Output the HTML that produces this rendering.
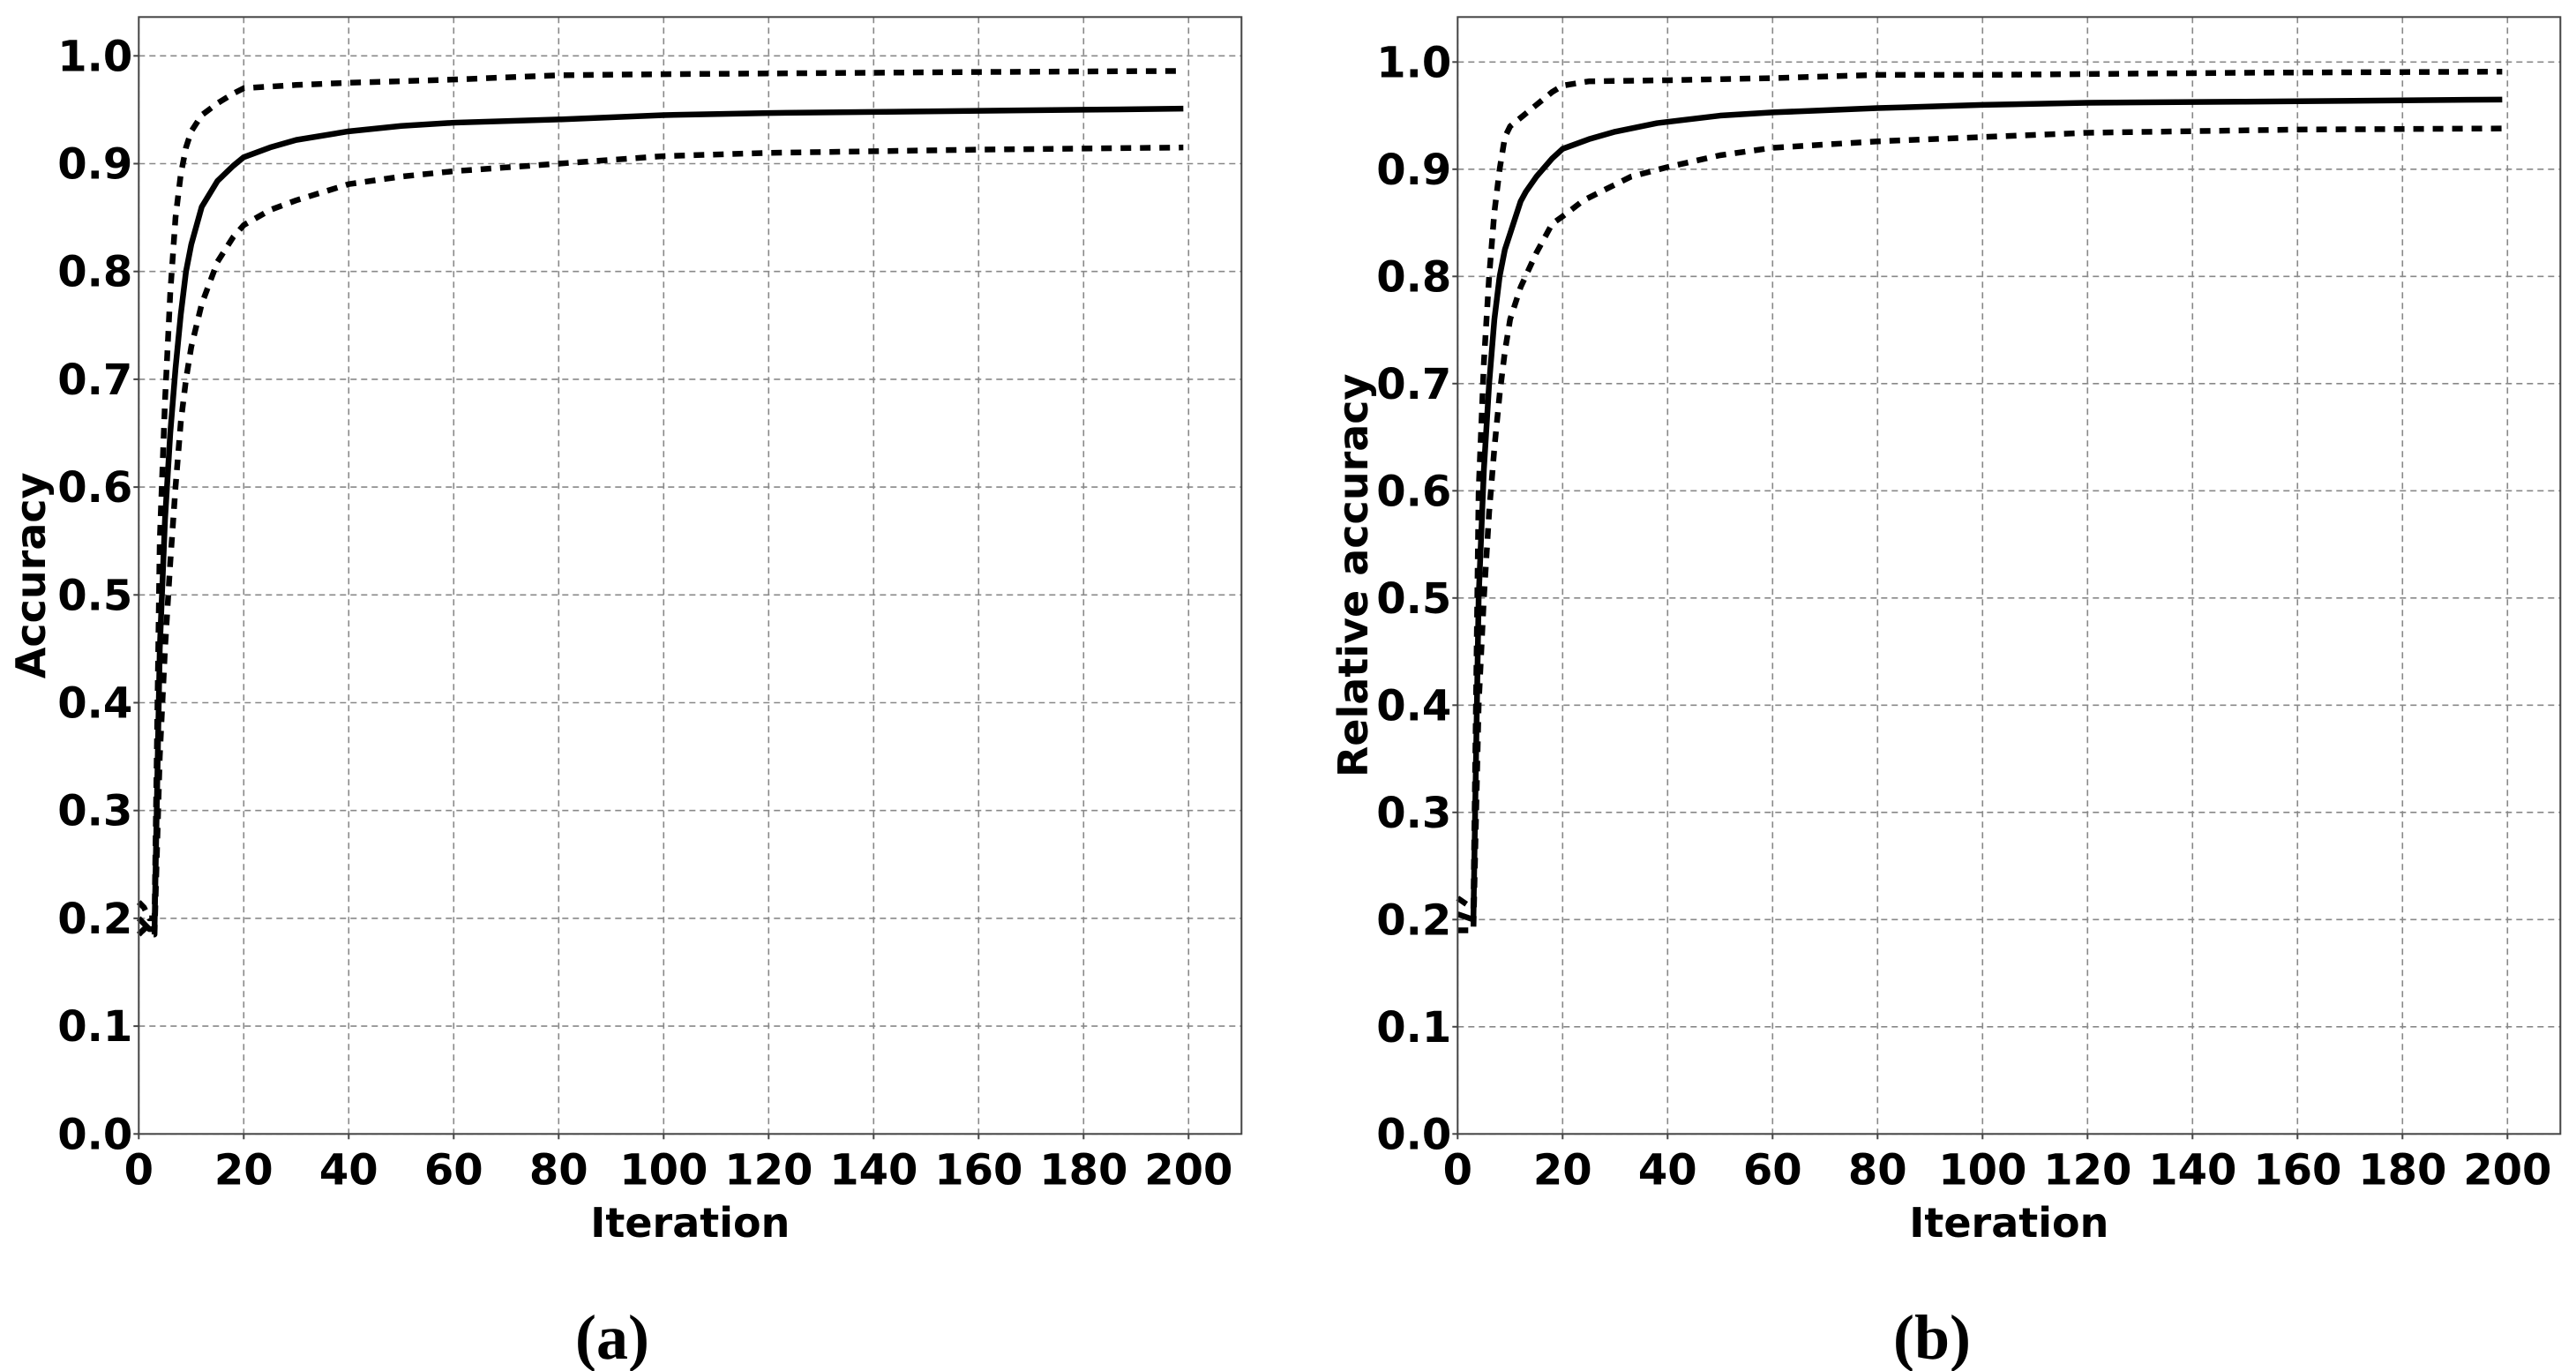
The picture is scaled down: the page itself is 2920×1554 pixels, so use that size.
<!DOCTYPE html>
<html><head><meta charset="utf-8">
<style>
html,body{margin:0;padding:0;background:#fff;}
svg{display:block;}
text{font-family:"DejaVu Sans","Liberation Sans",sans-serif;font-weight:bold;fill:#000;}
.cap{font-family:"Liberation Serif","DejaVu Serif",serif;font-weight:bold;}
</style></head>
<body>
<svg id="fig" width="2920" height="1554" viewBox="0 0 2920 1554" xmlns="http://www.w3.org/2000/svg"></svg>
<script>
// Panel (a) data
const aMeanX = [0,1,2,3,4,5,6,7,8,9,10,12,15,18,20,25,30,40,50,60,80,100,120,140,160,180,199];
const aMeanY = [0.2,0.195,0.19,0.19,0.45,0.57,0.65,0.71,0.76,0.80,0.825,0.86,0.884,0.898,0.906,0.915,0.922,0.930,0.935,0.938,0.941,0.945,0.947,0.948,0.949,0.950,0.951];
const aUpX = [0,1,2,3,4,5,6,7,8,9,10,12,15,18,20,30,40,60,80,100,130,160,199];
const aUpY = [0.215,0.21,0.2,0.2,0.55,0.68,0.78,0.85,0.89,0.915,0.93,0.945,0.956,0.965,0.97,0.973,0.975,0.978,0.982,0.983,0.984,0.985,0.986];
const aLoX = [0,1,2,3,4,5,6,7,8,9,10,12,15,18,20,25,30,40,50,60,80,100,120,160,199];
const aLoY = [0.185,0.19,0.185,0.185,0.35,0.45,0.53,0.6,0.66,0.7,0.73,0.77,0.809,0.832,0.843,0.857,0.866,0.881,0.888,0.893,0.9,0.907,0.91,0.913,0.915];
// Panel (b) data
const bMeanX = [0,3,4,5,6,7,8,9,10,12,13,15,18,20,25,30,38,50,60,80,100,120,150,199];
const bMeanY = [0.205,0.2,0.5,0.62,0.7,0.76,0.8,0.825,0.84,0.87,0.879,0.893,0.91,0.919,0.928,0.935,0.943,0.95,0.953,0.957,0.96,0.962,0.963,0.965];
const bUpX = [0,3,4,5,6,7,8,9,10,13,15,18,20,25,40,60,80,100,150,199];
const bUpY = [0.22,0.21,0.6,0.72,0.8,0.86,0.9,0.93,0.94,0.952,0.96,0.972,0.978,0.982,0.983,0.985,0.988,0.988,0.99,0.991];
const bLoX = [0,3,4,5,6,7,8,9,10,12,15,18,20,24,33,40,50,60,80,100,120,160,199];
const bLoY = [0.19,0.19,0.4,0.5,0.58,0.64,0.69,0.73,0.76,0.79,0.822,0.849,0.856,0.871,0.893,0.902,0.913,0.92,0.926,0.93,0.934,0.937,0.938];
const xTicks = [0,20,40,60,80,100,120,140,160,180,200];
const yTicks = [0.0,0.1,0.2,0.3,0.4,0.5,0.6,0.7,0.8,0.9,1.0];

const NS = "http://www.w3.org/2000/svg";
const svg = document.getElementById('fig');
function mk(tag, attrs, parent){const e=document.createElementNS(NS,tag);for(const k in attrs)e.setAttribute(k,attrs[k]);(parent||svg).appendChild(e);return e;}

function panel(cfg){
  const g = mk('g',{});
  
  
  const L=cfg.left, T=19.3, B=1285.3, W=1250;
  const xs = v => L + v*5.95;
  const ys = v => B - v*cfg.ppu;
  xTicks.forEach(t=>{
    const l=mk('line',{x1:xs(t),x2:xs(t),y1:T,y2:B,stroke:'#888','stroke-width':1.6,'stroke-dasharray':'7 5'},g);
    
    
    mk('line',{x1:xs(t),x2:xs(t),y1:B,y2:B+6,stroke:'#444','stroke-width':2},g);
    const tx=mk('text',{x:xs(t),y:B+57,'font-size':48,'text-anchor':'middle'},g);
    tx.textContent=String(t);
    
    
  });
  yTicks.forEach(t=>{
    const l=mk('line',{x1:L,x2:L+W,y1:ys(t),y2:ys(t),stroke:'#888','stroke-width':1.6,'stroke-dasharray':'7 5'},g);
    
    
    mk('line',{x1:L-6,x2:L,y1:ys(t),y2:ys(t),stroke:'#444','stroke-width':2},g);
    const tx=mk('text',{x:L-7,y:ys(t)+17,'font-size':48,'text-anchor':'end'},g);
    tx.textContent=t.toFixed(1);
    
    
  });
  function line(X,Y,dashed,name){
    const p=mk('polyline',{points:X.map((x,i)=>xs(x)+','+ys(Y[i])).join(' '),fill:'none',stroke:'#000','stroke-width':6.5,'stroke-linejoin':'round'},g);
    if(dashed) p.setAttribute('stroke-dasharray','12 10');
    
    
  }
  line(cfg.upX,cfg.upY,true,'upper-bound-line');
  line(cfg.loX,cfg.loY,true,'lower-bound-line');
  line(cfg.meanX,cfg.meanY,false,'mean-line');
  const fr=mk('rect',{x:L,y:T,width:W,height:B-T,fill:'none',stroke:'#444','stroke-width':2},g);
  
  
  const xl=mk('text',{x:L+W/2,y:1402,'font-size':46,'text-anchor':'middle'},g);
  xl.textContent='Iteration';
  
  
  const yl=mk('text',{x:cfg.ylx,y:(T+B)/2,'font-size':46,'text-anchor':'middle',transform:`rotate(-90 ${cfg.ylx} ${(T+B)/2})`},g);
  yl.textContent=cfg.ylabel;
  
  
  const cp=mk('text',{x:cfg.capx,y:1540,'font-size':72,'text-anchor':'middle','class':'cap'},g);
  cp.textContent=cfg.cap;
  
  
}
panel({name:'panel-a',left:157.3,ppu:1222,meanX:aMeanX,meanY:aMeanY,upX:aUpX,upY:aUpY,loX:aLoX,loY:aLoY,ylabel:'Accuracy',ylx:51,cap:'(a)',capx:694});
panel({name:'panel-b',left:1652.3,ppu:1215,meanX:bMeanX,meanY:bMeanY,upX:bUpX,upY:bUpY,loX:bLoX,loY:bLoY,ylabel:'Relative accuracy',ylx:1550,cap:'(b)',capx:2190});
</script>
</body></html>
